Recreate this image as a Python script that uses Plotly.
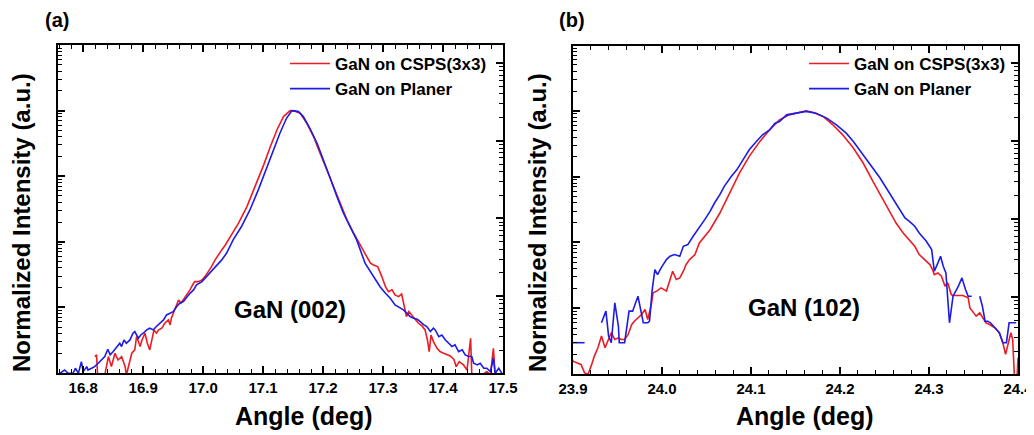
import plotly.graph_objects as go

# ---------------- data ----------------
# Panel (a): GaN (002)
a_red_x = [16.8195, 16.8223, 16.824, 16.836, 16.842, 16.847, 16.853, 16.858, 16.864, 16.870,
           16.872, 16.875, 16.881, 16.886, 16.889, 16.895, 16.898, 16.903, 16.907, 16.911,
           16.914, 16.918, 16.922, 16.926, 16.931, 16.936, 16.942, 16.945, 16.947, 16.953,
           16.956, 16.959, 16.963, 16.967, 16.973, 16.978, 16.984, 16.986, 16.992, 16.998,
           17.003, 17.009, 17.014, 17.020, 17.025, 17.031, 17.037, 17.045, 17.059, 17.073,
           17.087, 17.101, 17.112, 17.123, 17.134, 17.145, 17.153, 17.162, 17.173, 17.184,
           17.195, 17.206, 17.217, 17.229, 17.240, 17.251, 17.262, 17.270, 17.279, 17.284,
           17.291, 17.298, 17.304, 17.309, 17.315, 17.320, 17.326, 17.331, 17.335, 17.339,
           17.343, 17.348, 17.354, 17.359, 17.365, 17.370, 17.374, 17.377, 17.380, 17.384,
           17.390, 17.395, 17.401, 17.407, 17.412, 17.418, 17.422, 17.427, 17.434, 17.440,
           17.446, 17.448, 17.462, 17.473, 17.479, 17.484, 17.487, 17.493]
a_red_y = [1.78e-4, 1.89e-4, 9.3e-5, 9.3e-5, 1.78e-4, 1.25e-4, 2.0e-4, 1.58e-4, 1.78e-4, 1.25e-4,
           9.3e-5, 1.18e-4, 2.0e-4, 2.25e-4, 3.59e-4, 2.53e-4, 3.19e-4, 4.04e-4, 2.84e-4, 2.25e-4,
           3.19e-4, 4.54e-4, 4.04e-4, 4.54e-4, 4.81e-4, 5.73e-4, 6.44e-4, 5.41e-4, 6.84e-4, 9.16e-4,
           1.09e-3, 1.30e-3, 1.16e-3, 1.30e-3, 1.55e-3, 1.85e-3, 2.33e-3, 2.47e-3, 2.47e-3, 2.62e-3,
           2.95e-3, 3.52e-3, 4.19e-3, 5.30e-3, 6.31e-3, 7.52e-3, 8.95e-3, 1.20e-2, 1.92e-2, 3.44e-2,
           6.95e-2, 0.149, 0.282, 0.507, 0.811, 1.0, 0.977, 0.910, 0.641, 0.402,
           0.224, 0.125, 6.95e-2, 3.86e-2, 2.15e-2, 1.35e-2, 8.95e-3, 6.31e-3, 4.71e-3, 4.44e-3,
           4.19e-3, 2.95e-3, 2.07e-3, 1.74e-3, 1.85e-3, 1.55e-3, 1.46e-3, 1.60e-3, 1.03e-3, 7.24e-4,
           8.63e-4, 7.67e-4, 6.44e-4, 5.73e-4, 5.22e-4, 4.54e-4, 3.19e-4, 2.12e-4, 3.80e-4, 3.01e-4,
           2.38e-4, 2.12e-4, 2.0e-4, 1.89e-4, 1.82e-4, 1.62e-4, 1.25e-4, 1.49e-4, 1.33e-4, 1.11e-4,
           3.39e-4, 9.3e-5, 8.9e-5, 1.05e-4, 9.3e-5, 2.38e-4, 8.9e-5, 9.3e-5]

a_blue_x = [16.761, 16.769, 16.775, 16.783, 16.787, 16.792, 16.797, 16.800, 16.806, 16.808,
            16.814, 16.819, 16.825, 16.831, 16.836, 16.841, 16.845, 16.850, 16.856, 16.861,
            16.864, 16.868, 16.872, 16.878, 16.883, 16.886, 16.892, 16.896, 16.900, 16.906,
            16.911, 16.917, 16.922, 16.928, 16.934, 16.939, 16.945, 16.950, 16.956, 16.961,
            16.967, 16.973, 16.978, 16.984, 16.989, 16.998, 17.006, 17.014, 17.023, 17.031,
            17.039, 17.050, 17.064, 17.078, 17.092, 17.106, 17.117, 17.128, 17.139, 17.148,
            17.153, 17.159, 17.167, 17.178, 17.190, 17.201, 17.212, 17.223, 17.234, 17.245,
            17.256, 17.270, 17.279, 17.287, 17.295, 17.304, 17.312, 17.320, 17.329, 17.334,
            17.340, 17.345, 17.351, 17.357, 17.362, 17.368, 17.373, 17.379, 17.384, 17.387,
            17.393, 17.398, 17.404, 17.409, 17.415, 17.420, 17.426, 17.432, 17.437, 17.443,
            17.448, 17.451, 17.457, 17.462, 17.468, 17.473, 17.479, 17.484, 17.487, 17.493, 17.498]
a_blue_y = [9.9e-5, 1.11e-4, 9.9e-5, 9.9e-5, 1.18e-4, 9.9e-5, 1.49e-4, 1.05e-4, 1.25e-4, 1.11e-4,
            1.18e-4, 1.25e-4, 1.41e-4, 1.58e-4, 1.78e-4, 2.30e-4, 1.89e-4, 2.12e-4, 2.53e-4, 2.84e-4,
            2.53e-4, 3.19e-4, 2.84e-4, 3.19e-4, 4.04e-4, 4.28e-4, 3.39e-4, 3.80e-4, 4.04e-4, 4.54e-4,
            4.81e-4, 4.54e-4, 5.11e-4, 5.73e-4, 6.44e-4, 7.67e-4, 8.15e-4, 8.63e-4, 1.03e-3, 1.16e-3,
            1.23e-3, 1.46e-3, 1.64e-3, 1.85e-3, 2.20e-3, 2.47e-3, 2.95e-3, 3.52e-3, 4.44e-3, 5.30e-3,
            6.68e-3, 1.07e-2, 1.71e-2, 3.06e-2, 6.18e-2, 0.132, 0.251, 0.451, 0.764, 1.0,
            0.99, 0.966, 0.811, 0.538, 0.318, 0.177, 9.31e-2, 4.89e-2, 2.72e-2, 1.71e-2,
            1.07e-2, 4.71e-3, 3.52e-3, 2.78e-3, 2.07e-3, 1.64e-3, 1.38e-3, 1.09e-3, 9.70e-4, 9.16e-4,
            8.15e-4, 7.24e-4, 6.84e-4, 6.59e-4, 6.08e-4, 5.41e-4, 5.11e-4, 4.28e-4, 4.81e-4, 4.54e-4,
            3.59e-4, 3.80e-4, 3.19e-4, 2.84e-4, 2.53e-4, 2.68e-4, 2.12e-4, 2.25e-4, 1.89e-4, 1.78e-4,
            1.78e-4, 1.41e-4, 1.33e-4, 1.41e-4, 1.18e-4, 1.18e-4, 1.05e-4, 1.68e-4, 9.9e-5, 1.18e-4, 9.9e-5]

# Panel (b): GaN (102)
b_red_x = [23.896, 23.900, 23.904, 23.909, 23.913, 23.917, 23.921, 23.924, 23.928, 23.932,
           23.936, 23.939, 23.943, 23.947, 23.951, 23.954, 23.958, 23.962, 23.966, 23.969,
           23.973, 23.977, 23.981, 23.984, 23.988, 23.990, 23.994, 23.999, 24.005, 24.009,
           24.012, 24.016, 24.020, 24.024, 24.027, 24.031, 24.037, 24.042, 24.054, 24.065,
           24.076, 24.087, 24.098, 24.110, 24.121, 24.132, 24.143, 24.155, 24.162, 24.170,
           24.181, 24.192, 24.203, 24.215, 24.226, 24.237, 24.248, 24.256, 24.263, 24.271,
           24.278, 24.284, 24.289, 24.295, 24.301, 24.304, 24.306, 24.310, 24.314, 24.318,
           24.321, 24.325, 24.327, 24.338, 24.344, 24.346, 24.349, 24.353, 24.357, 24.361,
           24.364, 24.368, 24.374, 24.379, 24.383, 24.386, 24.389, 24.392, 24.394, 24.396,
           24.399, 24.400]
b_red_y = [1.99e-4, 1.57e-4, 1.48e-4, 1.40e-4, 1.04e-4, 9.9e-5, 1.40e-4, 1.87e-4, 2.51e-4, 3.77e-4,
           2.51e-4, 3.16e-4, 4.23e-4, 3.35e-4, 3.55e-4, 3.35e-4, 3.35e-4, 3.99e-4, 5.66e-4, 6.35e-4,
           7.14e-4, 8.03e-4, 9.55e-4, 6.74e-4, 1.14e-3, 1.71e-3, 1.82e-3, 2.04e-3, 1.82e-3, 2.73e-3,
           3.65e-3, 2.73e-3, 2.89e-3, 3.65e-3, 4.60e-3, 5.48e-3, 6.53e-3, 9.8e-3, 1.56e-2, 2.80e-2,
           5.64e-2, 0.113, 0.203, 0.343, 0.515, 0.730, 0.869, 0.944, 1.0, 0.944,
           0.820, 0.614, 0.432, 0.272, 0.161, 8.47e-2, 4.47e-2, 2.80e-2, 1.97e-2, 1.39e-2,
           1.10e-2, 8.73e-3, 6.53e-3, 5.48e-3, 4.60e-3, 3.86e-3, 3.24e-3, 3.44e-3, 3.06e-3, 2.16e-3,
           2.43e-3, 1.61e-3, 1.56e-3, 1.56e-3, 1.44e-3, 1.01e-3, 9.02e-4, 7.57e-4, 8.51e-4, 7.14e-4,
           6.0e-4, 5.66e-4, 5.04e-4, 4.23e-4, 2.99e-4, 1.99e-4, 2.99e-4, 4.23e-4, 3.35e-4, 9.0e-5,
           9.0e-5, 1.77e-4]

b_blue_x = [23.900, 23.913, None, 23.932, 23.937, 23.940, 23.943, 23.947, 23.951, 23.952,
            23.958, 23.963, 23.967, 23.973, 23.977, 23.979, 23.984, 23.986, 23.989, 23.992,
            23.995, 23.999, 24.005, 24.009, 24.014, 24.020, 24.024, 24.029, 24.035, 24.042,
            24.048, 24.054, 24.059, 24.065, 24.070, 24.078, 24.084, 24.091, 24.098, 24.106,
            24.113, 24.121, 24.127, 24.132, 24.140, 24.151, 24.162, 24.173, 24.185, 24.196,
            24.207, 24.215, 24.222, 24.230, 24.237, 24.245, 24.252, 24.260, 24.267, 24.273,
            24.278, 24.284, 24.289, 24.297, 24.303, 24.304, 24.306, 24.310, 24.313, 24.316,
            24.319, 24.323, 24.327, 24.333, 24.337, 24.341, 24.344, 24.348, None, 24.357,
            24.360, 24.363, 24.366, 24.369, 24.374, 24.379, 24.383, 24.387, 24.390, 24.394, 24.398]
b_blue_y = [2.99e-4, 2.99e-4, None, 6.0e-4, 9.02e-4, 3.77e-4, 2.99e-4, 1.21e-3, 5.33e-4, 2.99e-4,
            2.99e-4, 9.02e-4, 9.02e-4, 1.52e-3, 7.57e-4, 6.0e-4, 6.0e-4, 6.35e-4, 1.92e-3, 3.86e-3,
            3.24e-3, 4.10e-3, 5.48e-3, 6.17e-3, 6.53e-3, 6.17e-3, 8.73e-3, 9.27e-3, 1.24e-2, 1.66e-2,
            2.22e-2, 2.96e-2, 3.97e-2, 5.31e-2, 7.11e-2, 0.101, 0.127, 0.180, 0.256, 0.343,
            0.432, 0.515, 0.650, 0.689, 0.869, 0.922, 0.98, 0.922, 0.774, 0.614,
            0.458, 0.343, 0.256, 0.180, 0.135, 9.51e-2, 6.71e-2, 4.47e-2, 3.15e-2, 2.35e-2,
            2.09e-2, 1.76e-2, 1.39e-2, 1.04e-2, 7.78e-3, 5.48e-3, 3.65e-3, 4.88e-3, 6.17e-3, 4.35e-3,
            3.44e-3, 6.0e-4, 1.52e-3, 2.16e-3, 2.89e-3, 1.92e-3, 1.52e-3, 1.52e-3, None, 1.52e-3,
            1.07e-3, 6.35e-4, 6.35e-4, 6.0e-4, 5.04e-4, 4.23e-4, 2.99e-4, 2.99e-4, 6.0e-4, 6.0e-4, 6.0e-4]

series_names = ["GaN on CSPS(3x3)", "GaN on Planer"]
a_ticks = [16.8, 16.9, 17.0, 17.1, 17.2, 17.3, 17.4, 17.5]
b_ticks = [23.9, 24.0, 24.1, 24.2, 24.3, 24.4]
peak_labels = ["GaN (002)", "GaN (102)"]
panel_labels = ["(a)", "(b)"]

# ---------------- styling ----------------
W, H = 1034, 435
OX, OY = 8, 8          # page body margin of the html page
RED = "rgb(236,28,36)"
BLUE = "rgb(28,28,230)"
FONT = "Liberation Sans, Arial, sans-serif"

def px_x(p):
    return (p - OX) / W

def px_y(p):
    return 1 - (p - OY) / H

fig = go.Figure()

fig.add_trace(go.Scatter(x=a_red_x, y=a_red_y, mode="lines", name=series_names[0],
                         line=dict(color=RED, width=1.6), xaxis="x", yaxis="y", legend="legend"))
fig.add_trace(go.Scatter(x=a_blue_x, y=a_blue_y, mode="lines", name=series_names[1],
                         line=dict(color=BLUE, width=1.6), xaxis="x", yaxis="y", legend="legend"))
fig.add_trace(go.Scatter(x=b_red_x, y=b_red_y, mode="lines", name=series_names[0],
                         line=dict(color=RED, width=1.6), xaxis="x2", yaxis="y2", legend="legend2"))
fig.add_trace(go.Scatter(x=b_blue_x, y=b_blue_y, mode="lines", name=series_names[1],
                         line=dict(color=BLUE, width=1.6), xaxis="x2", yaxis="y2", legend="legend2"))
# empty traces so that the right-hand axes exist
fig.add_trace(go.Scatter(x=[], y=[], xaxis="x", yaxis="y3", showlegend=False, hoverinfo="skip"))
fig.add_trace(go.Scatter(x=[], y=[], xaxis="x2", yaxis="y4", showlegend=False, hoverinfo="skip"))

tickfont = dict(family=FONT, size=15, color="black", weight="bold")

def xax(domain, rng, ticks, anchor):
    return dict(domain=domain, range=rng, anchor=anchor, tickvals=ticks,
                ticktext=[f"{t:.1f}" for t in ticks], ticks="inside", ticklen=7, tickwidth=1.5,
                tickcolor="black", showline=True, linewidth=2, linecolor="black", mirror="ticks",
                showgrid=False, zeroline=False, tickfont=tickfont, automargin=False,
                minor=dict(ticks="inside", ticklen=4, tickwidth=1.2, tickcolor="black",
                           dtick=0.02, tick0=ticks[0], showgrid=False))

def yax(domain, rng, anchor, side="left", overlaying=None):
    d = dict(type="log", range=rng, anchor=anchor, side=side, dtick=1,
             ticks="inside", ticklen=7, tickwidth=1.5, tickcolor="black",
             showticklabels=False, showline=True, linewidth=2, linecolor="black",
             showgrid=False, zeroline=False, automargin=False,
             minor=dict(ticks="inside", ticklen=4, tickwidth=1.2, tickcolor="black",
                        dtick="D1", showgrid=False))
    if overlaying:
        d["overlaying"] = overlaying
    else:
        d["domain"] = domain
    return d

xa = [px_x(58), px_x(503)]
xb = [px_x(573), px_x(1018)]
ya = [px_y(373), px_y(45)]
yb = [px_y(374), px_y(45.7)]

legend_font = dict(family=FONT, size=17, color="black", weight="bold")

fig.update_layout(
    width=W, height=H, margin=dict(l=0, r=0, t=0, b=0, pad=0, autoexpand=False),
    paper_bgcolor="white", plot_bgcolor="white",
    xaxis=xax(xa, [16.758, 17.5], a_ticks, "y"),
    xaxis2=xax(xb, [23.9, 24.4], b_ticks, "y2"),
    yaxis=yax(ya, [-4, 1], "x"),
    yaxis2=yax(yb, [-4, 0.99], "x2"),
    yaxis3=yax(None, [-3.989, 0.232], "x", side="right", overlaying="y"),
    yaxis4=yax(None, [-3.99, 0.222], "x2", side="right", overlaying="y2"),
    legend=dict(x=px_x(285), y=px_y(46), xanchor="left", yanchor="top",
                font=legend_font, bgcolor="rgba(0,0,0,0)", itemwidth=40,
                tracegroupgap=0),
    legend2=dict(x=px_x(804), y=px_y(46), xanchor="left", yanchor="top",
                 font=legend_font, bgcolor="rgba(0,0,0,0)", itemwidth=40,
                 tracegroupgap=0),
    showlegend=True,
)

def ann(text, x, y, font, angle=0):
    return dict(text=text, x=px_x(x), y=px_y(y), xref="paper", yref="paper",
                xanchor="center", yanchor="middle", showarrow=False, textangle=angle,
                font=font)

ann_font_big = dict(family=FONT, size=24, color="black", weight="bold")
title_font = dict(family=FONT, size=25, color="black", weight="bold")
ytitle_font = dict(family=FONT, size=24, color="black", weight="bold")
panel_font = dict(family=FONT, size=20, color="black", weight="bold")

fig.update_layout(annotations=[
    ann(panel_labels[0], 57, 20, panel_font),
    ann(panel_labels[1], 572, 20, panel_font),
    ann(peak_labels[0], 290, 309, ann_font_big),
    ann(peak_labels[1], 804, 307, ann_font_big),
    ann("Angle (deg)", 304, 416, title_font),
    ann("Angle (deg)", 805, 416, title_font),
    ann("Normalized Intensity (a.u.)", 22, 223, ytitle_font, -90),
    ann("Normalized Intensity (a.u.)", 538, 223, ytitle_font, -90),
])

fig.write_html("out.html")
